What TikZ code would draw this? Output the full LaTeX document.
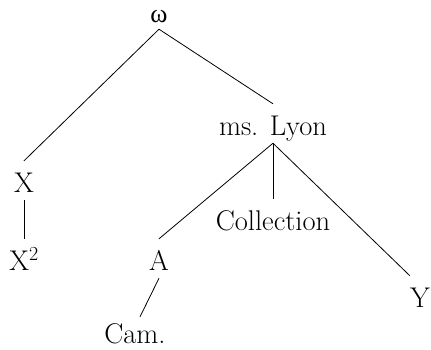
\documentclass[tikz,border=0pt]{standalone}
\usepackage{fontspec}
\newfontfamily\greekfont{Liberation Serif}
\usepackage{tikz}
\usetikzlibrary{positioning}

\begin{document}
\begin{tikzpicture}[x=1pt,y=-1pt,every node/.style={font=\fontsize{28.5}{32}\selectfont,
  anchor=base,text height=23pt,text depth=0pt,inner xsep=0pt,inner ysep=8pt},
  branch/.style={line width=.8pt}]

  \useasboundingbox (0,0) rectangle (431,349);

  % top
  \node[text height=12pt,inner ysep=7pt,font=\fontsize{26}{28}\selectfont] (omega) at (159,22) {\greekfont ω};
  \node (lyon) at (273,135) {ms. Lyon};

  % left branch
  \node (x) at (24,192) {X};
  \node (x2) at (24,270) {X\textsuperscript{2}};

  % below ms. Lyon
  \node (coll) at (273,230) {Collection};
  \node (a) at (159,270) {A};
  \node (y) at (420,307) {Y};
  \node (cam) at (135,343) {Cam.};

  %stemma lines
  \draw[branch] (omega.south) -- (x.north);
  \draw[branch] (omega.south) -- (lyon.north);
  \draw[branch] (lyon.south) -- (a.north);
  \draw[branch] (lyon.south) -- (coll.north);
  \draw[branch] (lyon.south) -- (y.north west);
  \draw[branch] (x.south) -- (x2.north);
  \draw[branch] (a.south) -- ([xshift=5pt,yshift=-5pt]cam.north);

\end{tikzpicture}
\end{document}
